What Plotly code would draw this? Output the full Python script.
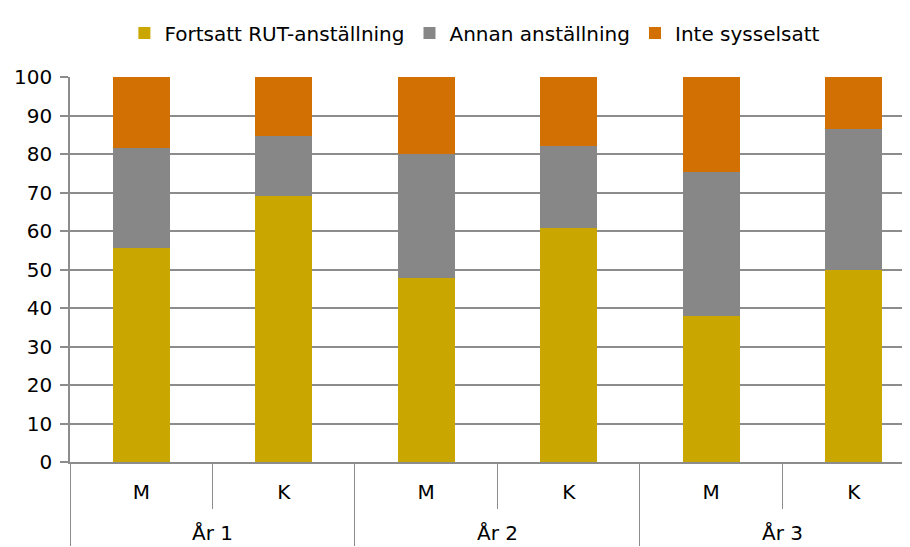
import plotly.graph_objects as go

years = ['År 1', 'År 1', 'År 2', 'År 2', 'År 3', 'År 3']
sexes = ['M', 'K', 'M', 'K', 'M', 'K']

rut = [55.5, 69.2, 47.7, 60.8, 37.9, 49.9]
annan = [26.1, 15.5, 32.2, 21.2, 37.3, 36.5]
inte = [18.4, 15.3, 20.1, 18.0, 24.8, 13.6]

series = [
    ('Fortsatt RUT-anställning', rut, '#C9A600'),
    ('Annan anställning', annan, '#878787'),
    ('Inte sysselsatt', inte, '#D27004'),
]

# pad the first label level so the year row sits lower, as in the original
sex_labels = [s + '<br> ' for s in sexes]

fig = go.Figure()
for name, vals, col in series:
    fig.add_trace(go.Bar(x=[years, sex_labels], y=vals, name=name,
                         marker=dict(color=col, line=dict(width=0)), width=0.4))

# page body has an 8px margin, so margins are shifted to compensate
fig.update_layout(
    barmode='stack',
    width=910, height=547,
    margin=dict(l=62, r=8, t=69, b=93),
    plot_bgcolor='white', paper_bgcolor='white',
    font=dict(family='DejaVu Sans', size=20, color='black'),
    legend=dict(orientation='h', x=0.482, xanchor='center', y=0.99, yanchor='top',
                yref='container', traceorder='normal', font=dict(size=20),
                itemwidth=30, bgcolor='rgba(0,0,0,0)'),
    showlegend=True,
)

fig.update_yaxes(range=[0, 100], dtick=10, showgrid=True, gridcolor='#8c8c8c', gridwidth=1.5,
                 showline=True, linecolor='#8c8c8c', linewidth=1.5,
                 ticks='outside', ticklen=8, tickcolor='#8c8c8c', tickwidth=1.5,
                 ticklabelstandoff=4,
                 zeroline=False, tickfont=dict(size=20), automargin=False)
fig.update_xaxes(type='multicategory', range=[-0.5, 5.395],
                 showline=True, linecolor='#8c8c8c', linewidth=1.5,
                 ticks='outside', tickson='boundaries', ticklen=45, tickcolor='#8c8c8c', tickwidth=1,
                 showdividers=True, dividercolor='#8c8c8c', dividerwidth=1,
                 ticklabelstandoff=11,
                 tickfont=dict(size=20), automargin=False)

fig.write_html("out.html")
